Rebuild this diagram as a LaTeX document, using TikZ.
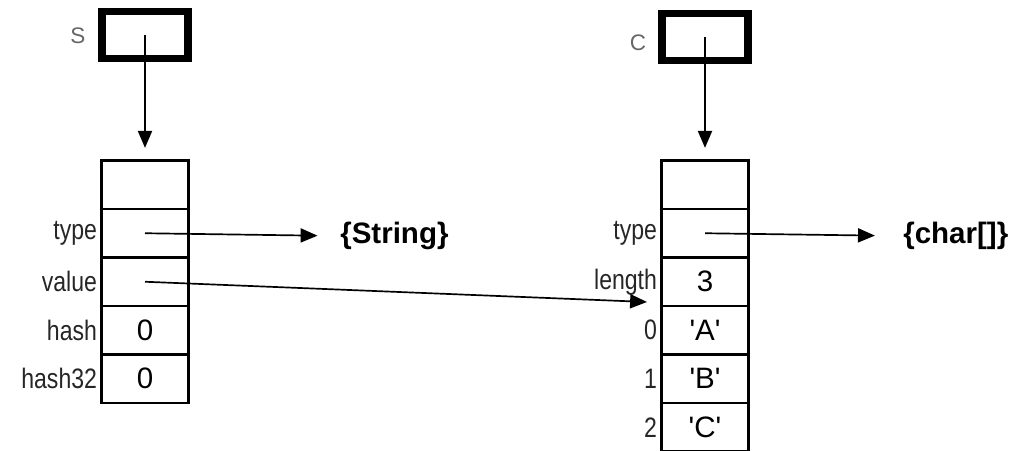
\documentclass[tikz,border=0pt]{standalone}
\usepackage{fontspec}
\setmainfont{Liberation Sans}[FakeStretch=0.82]
\newfontfamily\typefont{Liberation Sans}
\usetikzlibrary{arrows.meta}

\begin{document}
\begin{tikzpicture}[x=0.025cm,y=-0.025cm,>={Triangle[length=12pt,width=10pt]},
    refbox/.style={draw,line width=5.5pt,minimum width=2.15cm,minimum height=1.17cm,inner sep=0pt},
    cell/.style={draw,line width=2pt,minimum width=2.175cm,minimum height=1.2125cm,inner sep=0pt,font=\typefont\fontsize{21}{25}\selectfont},
    lab/.style={anchor=east,inner sep=2pt,text=black!85,font=\fontsize{20}{24}\selectfont},
    var/.style={text=black!60,font=\typefont\fontsize{16}{19}\selectfont},
    cls/.style={anchor=west,inner sep=0pt,font=\typefont\bfseries\fontsize{21}{25}\selectfont},
    ptr/.style={->,line width=1.2pt}]
    \useasboundingbox (0,0) rectangle (1020,451);

    % the String object
    \node[var] (sname) at (78,36) {S};
    \node[refbox] (sref) at (145,35) {};
    \foreach \i/\v/\l in {0//,1//type,2//value,3/0/hash,4/0/hash32} {
        \node[cell] (s\i) at (145,184.75+48.5*\i) {\v};
        \node[lab] at (s\i.west) {\l};
    }
    \node[cls] (strtype) at (340,236) {\{String\}};

    % the char array
    \node[var] (cname) at (638,43) {C};
    \node[refbox] (cref) at (705,37) {};
    \foreach \i/\v/\l in {0//,1//type,2/3/length,3/\textquotesingle A\textquotesingle/0,4/\textquotesingle B\textquotesingle/1,5/\textquotesingle C\textquotesingle/2} {
        \node[cell] (c\i) at (705,184.75+48.5*\i) {\v};
        \node[lab] at (c\i.west) {\l};
    }
    \node[cls] (chrtype) at (903,236) {\{char[]\}};

    \draw[ptr,shorten >=8pt] (sref.center) -- (s0.north);
    \draw[ptr,shorten >=8pt] (cref.center) -- (c0.north);
    \draw[ptr,shorten >=16pt] (s1.center) -- (strtype.west);
    \draw[ptr,shorten >=20pt] (c1.center) -- (chrtype.west);
    \coordinate (vend) at (647,302);
    \draw[ptr] (s2.center) -- (vend);
\end{tikzpicture}
\end{document}
